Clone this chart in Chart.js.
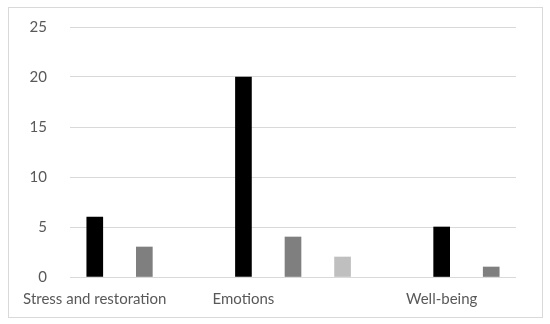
<!DOCTYPE html>
<html>
<head>
<meta charset="utf-8">
<script src="https://cdn.jsdelivr.net/npm/chart.js@4/dist/chart.umd.min.js"></script>
<style>
  body { margin: 0; background: #fff; }
  #box {
    position: absolute; left: 8px; top: 7px;
    width: 533px; height: 309px;
    border: 1px solid #d9d9d9;
  }
</style>
</head>
<body>
<div id="box"><canvas id="chart"></canvas></div>
<script>
// posizioni sull'asse x: nove colonne, etichette solo su alcune
const categories = ['Stress and restoration', '', '', 'Emotions', '', '', '', 'Well-being', ''];
const values = [6, 3, null, 20, 4, 2, null, 5, 1];
const yTicks = [0, 5, 10, 15, 20, 25];

// colori delle colonne
const barColors = ['#000000', '#7f7f7f', '#bfbfbf', '#000000', '#7f7f7f', '#bfbfbf', '#bfbfbf', '#000000', '#7f7f7f'];

Chart.defaults.font.family = 'Lato, "Open Sans", sans-serif';
Chart.defaults.font.size = 15;
Chart.defaults.color = '#595959';

new Chart(document.getElementById('chart'), {
    type: 'bar',
    data: {
        labels: categories,
        datasets: [{
            data: values,
            backgroundColor: barColors,
            barThickness: 16
        }]
    },
    options: {
        responsive: true,
        maintainAspectRatio: false,
        animation: false,
        layout: { padding: { top: 19, right: 26, left: 0, bottom: 0 } },
        plugins: { legend: { display: false }, tooltip: { enabled: false } },
        scales: {
            x: {
                grid: { display: false },
                border: { display: false },
                ticks: { autoSkip: false, maxRotation: 0, minRotation: 0, padding: 5 },
                afterFit: (scale) => { scale.height = 40; }
            },
            y: {
                min: 0,
                max: 25,
                afterBuildTicks: (scale) => { scale.ticks = yTicks.map(v => ({ value: v })); },
                // il trattino trasparente fa da distanza tra etichette e griglia
                grid: { color: '#d9d9d9', drawTicks: true, tickLength: 23, tickColor: 'rgba(0,0,0,0)' },
                border: { display: false },
                ticks: { padding: 0 },
                afterFit: (scale) => { scale.width = 61; }
            }
        }
    }
});
</script>
</body>
</html>
